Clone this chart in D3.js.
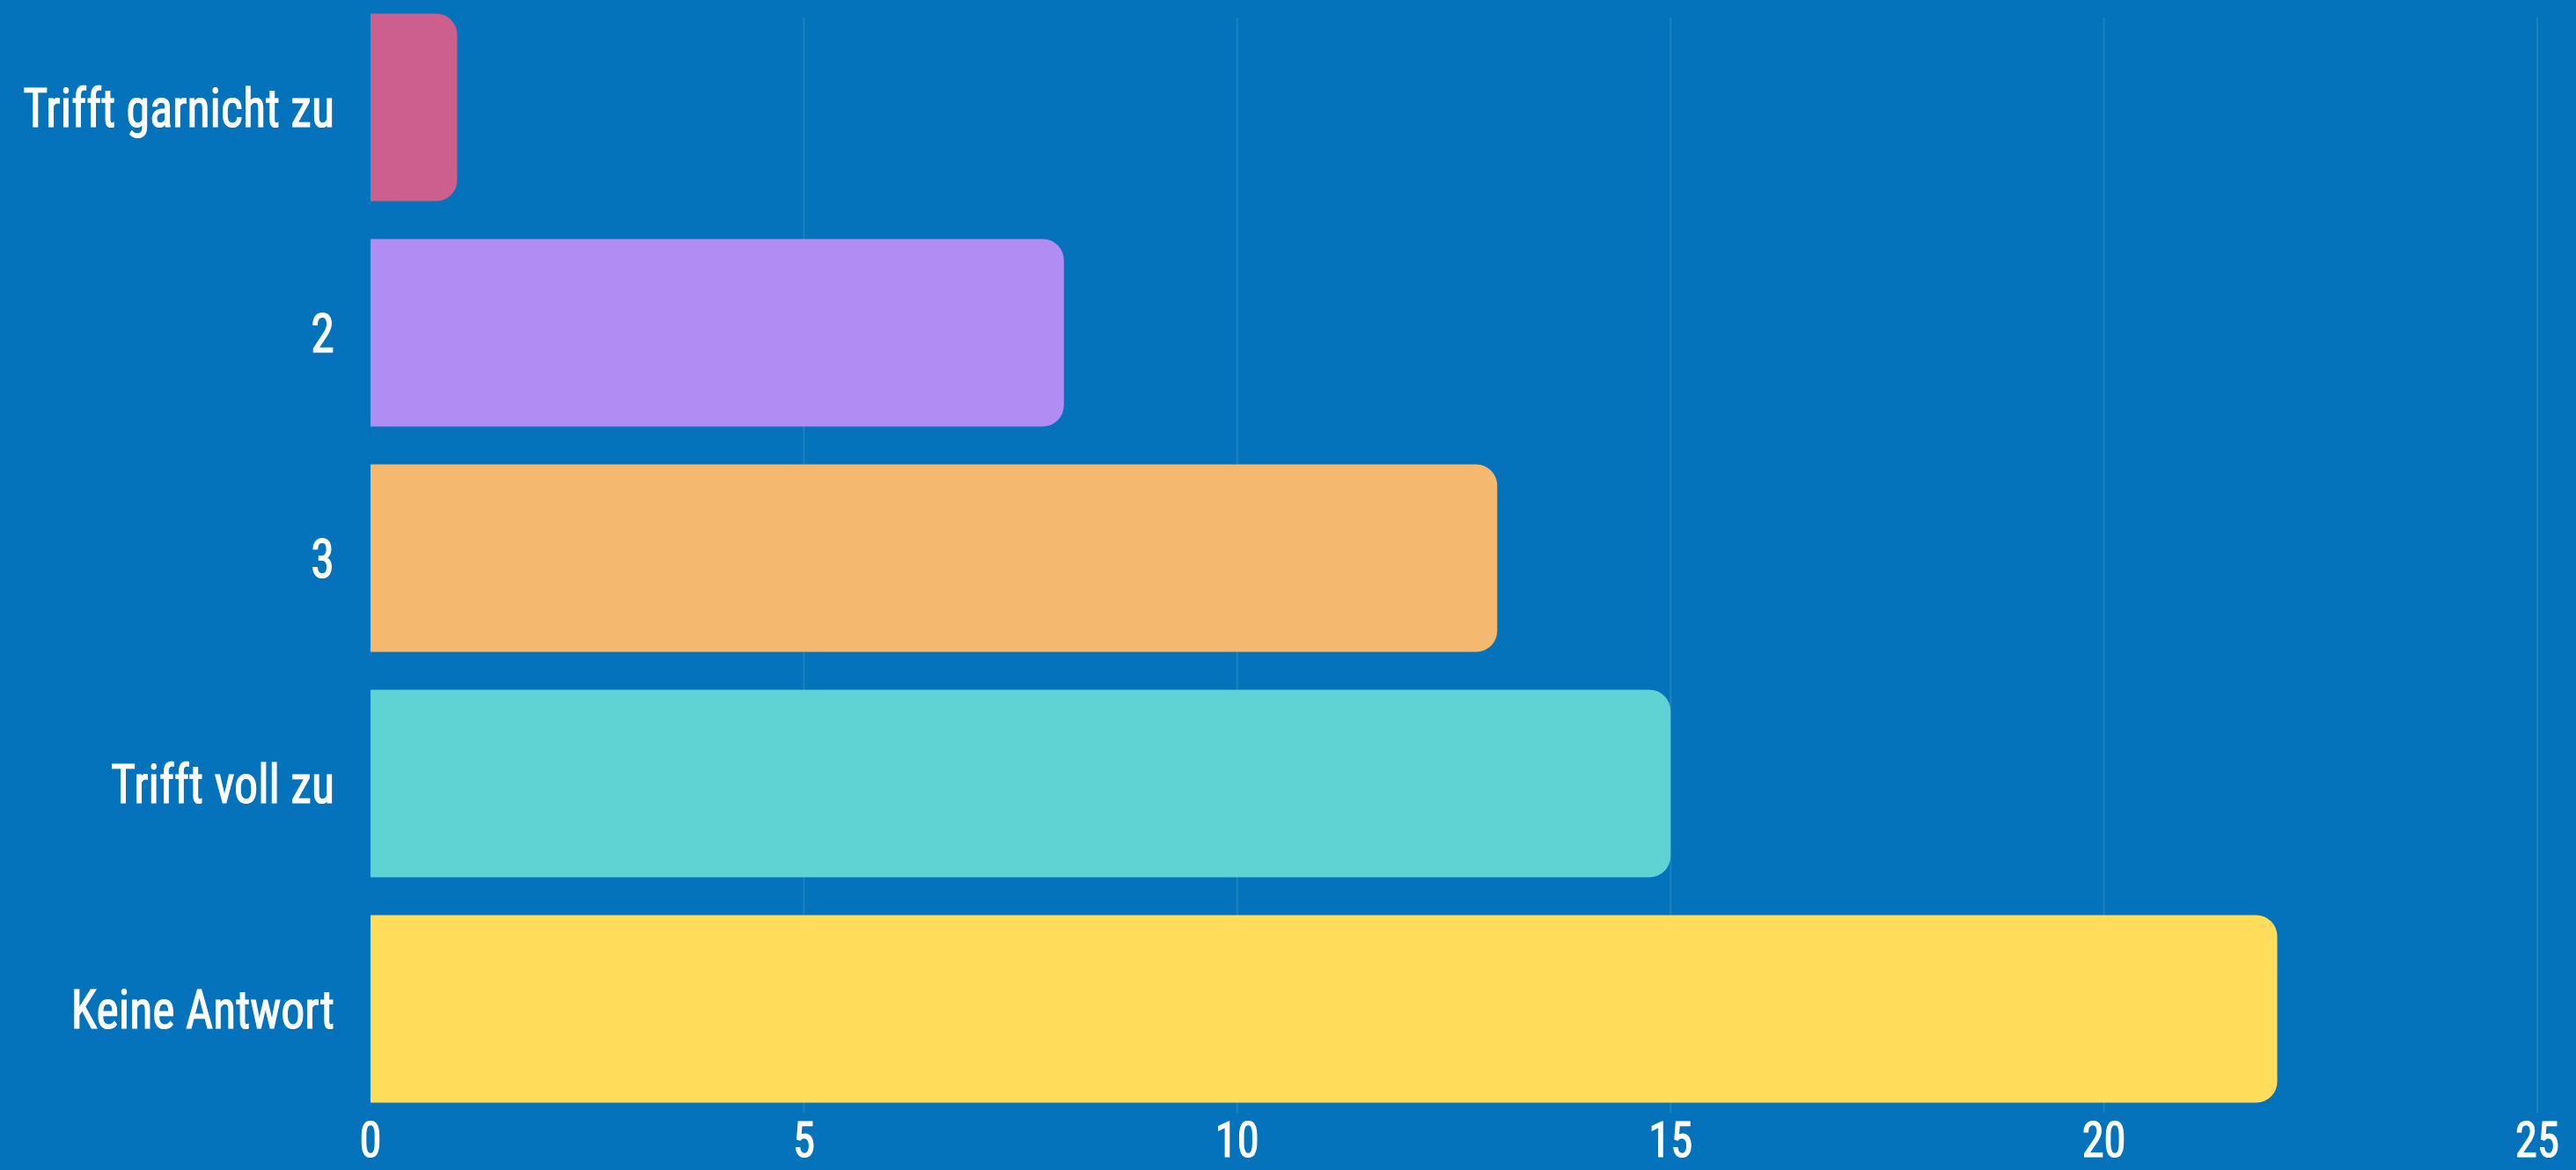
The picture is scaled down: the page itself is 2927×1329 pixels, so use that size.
<!DOCTYPE html>
<html><head><meta charset="utf-8">
<script src="https://cdn.jsdelivr.net/npm/d3@7"></script>
<style>
html,body{margin:0;padding:0;background:#0473BB;overflow:hidden}
text{font-family:"Roboto Condensed","Liberation Sans Narrow",Roboto,sans-serif;fill:#fff;stroke:#fff;stroke-width:1.2px}
</style></head><body>
<svg id="c" width="2927" height="1329"></svg>
<script>
const categories = ["Trifft garnicht zu", "2", "3", "Trifft voll zu", "Keine Antwort"];
const values = [1, 8, 13, 15, 22];
const colors = ["#CC5F8B", "#B18CF2", "#F4B86E", "#5FD3D3", "#FFDC5A"];
const xTicks = [0, 5, 10, 15, 20, 25];

const W = 2927, H = 1329;
const svg = d3.select("#c");
svg.append("rect").attr("width", W).attr("height", H).attr("fill", "#0473BB");

const x = d3.scaleLinear().domain([0, 25]).range([421, 2883]);
const y = d3.scaleBand().domain(categories).range([-6, 1274]).paddingInner(0.168).paddingOuter(0.084);

// grid
svg.append("g").selectAll("line").data(xTicks.slice(1)).join("line")
  .attr("x1", d => x(d)).attr("x2", d => x(d))
  .attr("y1", 20).attr("y2", 1264)
  .attr("stroke", "rgba(255,255,255,0.1)").attr("stroke-width", 2);

function barPath(x0, x1, y0, h, r) {
  r = Math.min(r, (x1 - x0), h / 2);
  return `M${x0},${y0}H${x1 - r}A${r},${r} 0 0 1 ${x1},${y0 + r}V${y0 + h - r}A${r},${r} 0 0 1 ${x1 - r},${y0 + h}H${x0}Z`;
}

svg.append("g").selectAll("path").data(values).join("path")
  .attr("d", (d, i) => barPath(x(0), x(d), y(categories[i]), y.bandwidth(), 24))
  .attr("fill", (d, i) => colors[i]);

// y labels (condensed horizontally)
const ylg = svg.append("g").attr("transform", "translate(380,0) scale(0.87,1)");
ylg.selectAll("text").data(categories).join("text")
  .attr("x", 0).attr("y", d => y(d) + y.bandwidth() / 2 + 22)
  .attr("text-anchor", "end")
  .attr("font-size", 62).attr("font-weight", 400)
  .text(d => d);

// x labels
svg.append("g").selectAll("text").data(xTicks).join("text")
  .attr("transform", d => `translate(${x(d)},1314) scale(0.92,1)`)
  .attr("text-anchor", "middle")
  .attr("font-size", 55).attr("font-weight", 400)
  .text(d => d);
</script></body></html>
